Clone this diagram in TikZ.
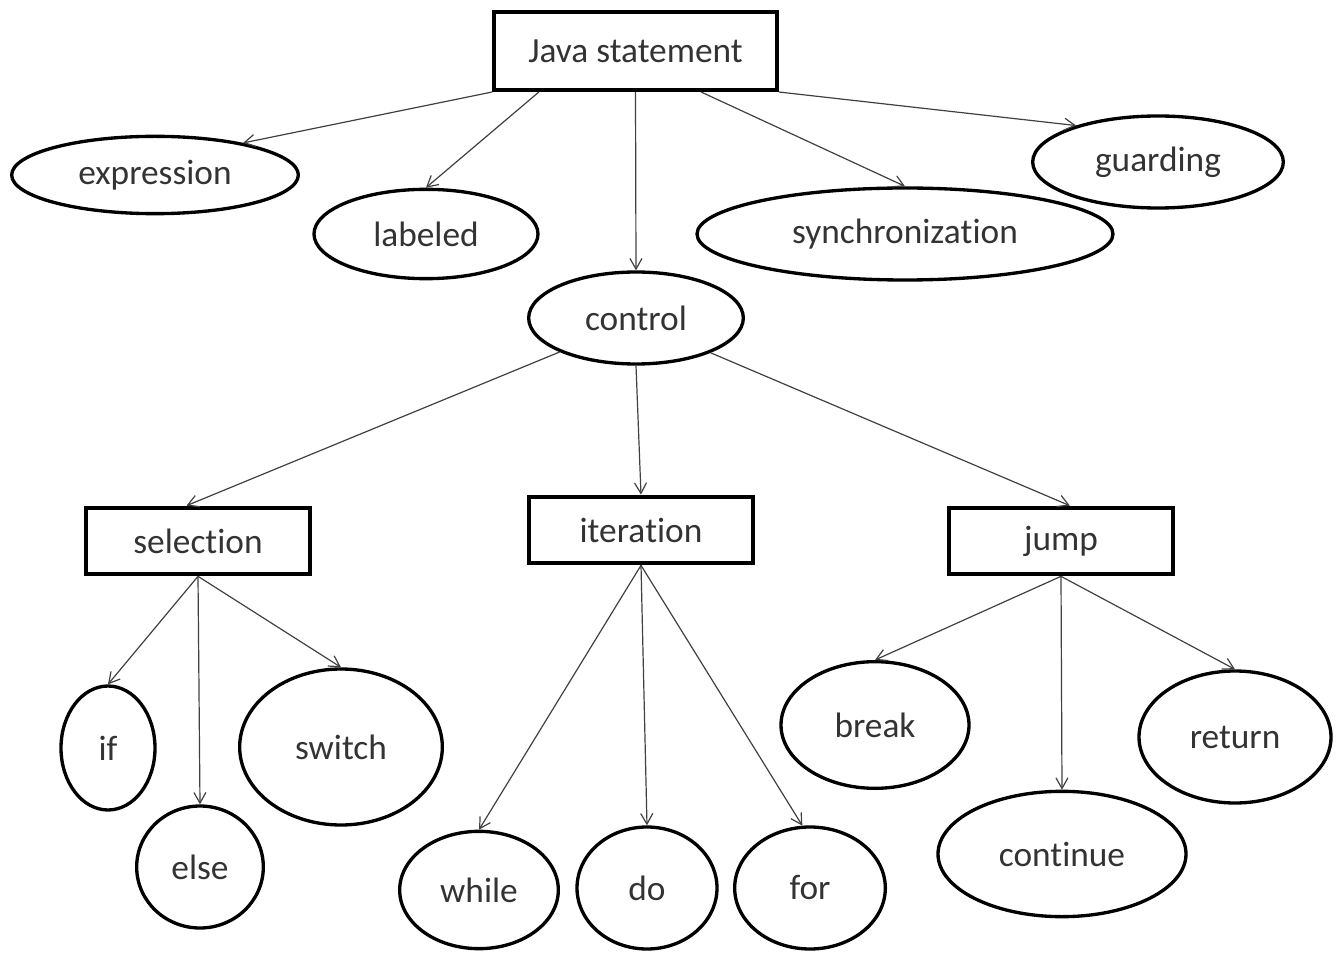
\documentclass[tikz,border=0pt]{standalone}
\usepackage{fontspec}
\setmainfont[Ligatures={NoCommon,NoRare,NoContextual},Contextuals=NoAlternate]{Carlito}
\usetikzlibrary{shapes.geometric,arrows.meta}
\begin{document}
\begin{tikzpicture}[x=0.75pt,y=-0.75pt,
  box/.style 2 args={draw,line width=3pt,rectangle,inner sep=0pt,minimum width=#1,minimum height=#2},
  oval/.style 2 args={draw,line width=2.5pt,ellipse,inner sep=0pt,minimum width=#1,minimum height=#2},
  arr/.style={-{Straight Barb[length=8pt,width=9pt]},line width=0.9pt,draw=black!75},
  font=\fontsize{26.5}{30}\selectfont,text=black!80]
\useasboundingbox (0,0) rectangle (1342,955);
% top level
\node[box={212pt}{58.5pt}] (java) at (635.5,51) {Java statement};
\node[oval={215pt}{58pt}] (expr) at (155,175) {expression};
\node[oval={168pt}{67pt}] (labeled) at (426,234) {labeled};
\node[oval={312pt}{69pt}] (sync) at (905,234) {synchroniza\kern0pt tion};
\node[oval={188pt}{69pt}] (guard) at (1158,162) {guarding};
\node[oval={161pt}{69pt}] (control) at (636,318) {control};
% control statements
\node[box={168pt}{50pt}] (sel) at (198,541) {selec\kern0pt tion};
\node[box={168pt}{50pt}] (iter) at (641,530) {itera\kern0pt tion};
\node[box={168pt}{50pt}] (jump) at (1061,541) {jump};
% leaves
\node[oval={70.5pt}{93pt}] (if) at (108,748) {if};
\node[oval={95pt}{91.5pt}] (else) at (200,867) {else};
\node[oval={152pt}{117pt}] (switch) at (341,747) {switch};
\node[oval={119pt}{88pt}] (while) at (479,890) {while};
\node[oval={105pt}{91.5pt}] (do) at (647,888) {do};
\node[oval={113pt}{91.5pt}] (for) at (810,888) {for};
\node[oval={141pt}{95pt}] (break) at (875,725) {break};
\node[oval={186pt}{94pt}] (cont) at (1062,854) {cont\kern0pt inue};
\node[oval={144pt}{99pt}] (ret) at (1235,737) {return};
% connectors
\draw[arr] (java.south west) -- (expr.20);
\draw[arr] (java.203) -- (labeled.north);
\draw[arr] (java.south) -- (control.north);
\draw[arr] (java.328) -- (sync.north);
\draw[arr] (java.south east) -- (guard.156);
\draw[arr] (control.204) -- (sel.108);
\draw[arr] (control.south) -- (iter.north);
\draw[arr] (control.335) -- (jump.76);
\draw[arr] (sel.south) -- (if.north);
\draw[arr] (sel.south) -- (else.north);
\draw[arr] (sel.south) -- (switch.north);
\draw[arr] (iter.south) -- (while.north);
\draw[arr] (iter.south) -- (do.north);
\draw[arr] (iter.south) -- (for.97);
\draw[arr] (jump.south) -- (break.north);
\draw[arr] (jump.south) -- (cont.north);
\draw[arr] (jump.south) -- (ret.north);
\end{tikzpicture}
\end{document}
